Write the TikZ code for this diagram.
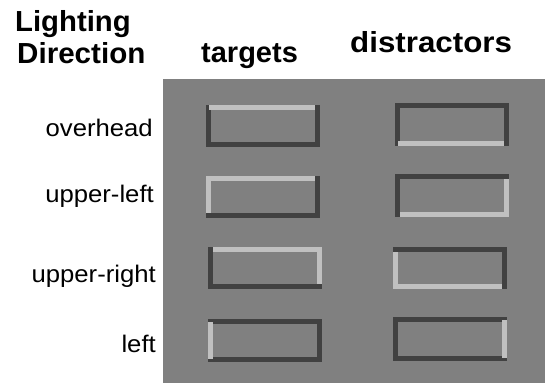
\documentclass[tikz,border=0pt]{standalone}
\usepackage{fontspec}
\setmainfont{Liberation Sans}
\definecolor{panelgray}{HTML}{808080}
\definecolor{edgedark}{HTML}{414141}
\definecolor{edgelight}{HTML}{C0C0C0}
\begin{document}
\begin{tikzpicture}[x=1pt,y=-1pt,
  heading/.style={inner sep=0pt,anchor=base west,font=\fontsize{29}{32}\selectfont\bfseries},
  rowlabel/.style={inner sep=0pt,anchor=base east,font=\fontsize{24}{26}\selectfont},
  darkedge/.style={draw=edgedark,line width=5pt},
  lightedge/.style={draw=edgelight,line width=5pt,line join=miter}]
\useasboundingbox (0,0) rectangle (545,390);
% stimulus panel
\fill[panelgray] (163,79) rectangle (545,383);

% column and axis headings
\node[heading] (hl1) at (15,32) {\scalebox{1.01}[1]{Lighting}};
\node[heading] (hl2) at (17,64) {\scalebox{1.02}[1]{Direction}};
\node[heading] (htg) at (201,63) {\scalebox{1.0}[1]{targets}};
\node[heading] (hds) at (350,53) {\scalebox{1.08}[1]{distractors}};

% row labels
\node[rowlabel] (rov) at (153,137) {\scalebox{1.07}[1]{overhead}};
\node[rowlabel] (rul) at (154,202) {\scalebox{1.07}[1]{upper-left}};
\node[rowlabel] (rur) at (156,282) {\scalebox{1.07}[1]{upper-right}};
\node[rowlabel] (rle) at (156,352) {\scalebox{1.07}[1]{left}};

% overhead
\draw[darkedge] (208.5,107.5) rectangle (317.5,144.5);
\draw[lightedge] (209,107.5) -- (315,107.5);
\draw[darkedge] (397.5,105.5) rectangle (506.5,143.5);
\draw[lightedge] (398,143.5) -- (504,143.5);

% upper-left
\draw[darkedge] (208.5,178.5) rectangle (317.5,215.5);
\draw[lightedge] (208.5,213) -- (208.5,178.5) -- (315,178.5);
\draw[darkedge] (397.5,176.5) rectangle (506.5,214.5);
\draw[lightedge] (400,214.5) -- (506.5,214.5) -- (506.5,179);

% upper-right
\draw[darkedge] (210.5,249.5) rectangle (319.5,286.5);
\draw[lightedge] (213,249.5) -- (319.5,249.5) -- (319.5,284);
\draw[darkedge] (395.5,249.5) rectangle (504.5,286.5);
\draw[lightedge] (395.5,252) -- (395.5,286.5) -- (502,286.5);

% left
\draw[darkedge] (210.5,321.5) rectangle (319.5,359.5);
\draw[lightedge] (210.5,322) -- (210.5,359);
\draw[darkedge] (395.5,319.5) rectangle (504.5,358.5);
\draw[lightedge] (504.5,320) -- (504.5,358);
\end{tikzpicture}
\end{document}
